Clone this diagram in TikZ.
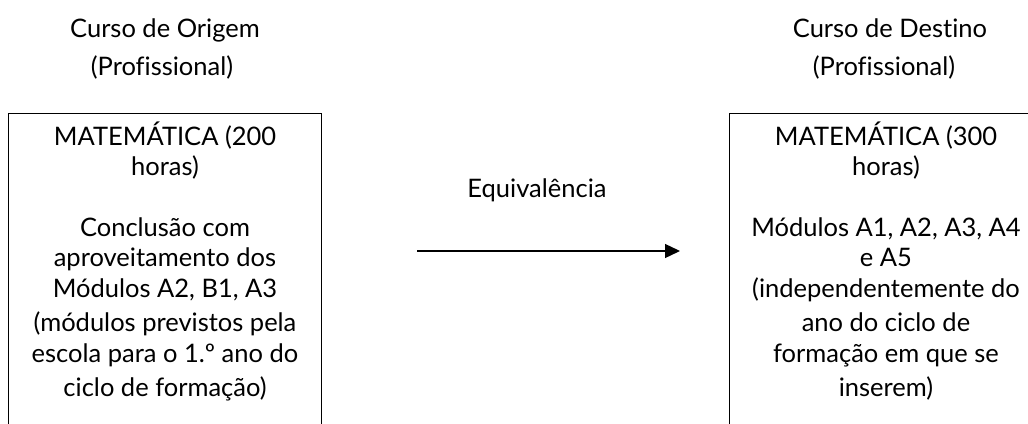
\documentclass[tikz,border=0pt]{standalone}
\usepackage{fontspec}
\setmainfont{Lato}[Ligatures={NoCommon}]
\usetikzlibrary{arrows.meta}
\tikzset{
  txt/.style={font=\fontsize{25.5}{30}\selectfont, inner sep=0pt, anchor=base, text=black},
  boxframe/.style={draw=black, line width=1.3pt, rectangle, anchor=north west, inner sep=0pt},
  equiv/.style={line width=1.3pt, -{Triangle[length=15pt,width=14pt]}}
}
\begin{document}
\begin{tikzpicture}[x=1pt,y=-1pt]
\useasboundingbox (0,0) rectangle (1028,423);
\clip (0,0) rectangle (1028,423);
\fill[white] (0,0) rectangle (1028,423);
% boxes
\node[boxframe, minimum width=313pt, minimum height=340pt] (orig) at (8,113) {};
\node[boxframe, minimum width=314pt, minimum height=340pt] (dest) at (729,113) {};
% titles
\node[txt] (t1) at (165,37) {Curso de Origem};
\node[txt] (t2) at (162,75) {(Profissional)};
\node[txt] (t3) at (890,37) {Curso de Destino};
\node[txt] (t4) at (884,75) {(Profissional)};
% left box text
\node[txt] (l1) at (165,145) {MATEMÁTICA (200};
\node[txt] (l2) at (165,175) {horas)};
\node[txt] (l3) at (165,236) {Conclusão com};
\node[txt] (l4) at (165,266) {aproveitamento dos};
\node[txt] (l5) at (165,297) {Módulos A2, B1, A3};
\node[txt] (l6) at (165,331) {(módulos previstos pela};
\node[txt] (l7) at (165,362) {escola para o 1.º ano do};
\node[txt] (l8) at (165,396) {ciclo de formação)};
% right box text
\node[txt] (r1) at (886,145) {MATEMÁTICA (300};
\node[txt] (r2) at (886,175) {horas)};
\node[txt] (r3) at (886,236) {Módulos A1, A2, A3, A4};
\node[txt] (r4) at (886,266) {e A5};
\node[txt] (r5) at (886,297) {(independentemente do};
\node[txt] (r6) at (886,331) {ano do ciclo de};
\node[txt] (r7) at (886,362) {formação em que se};
\node[txt] (r8) at (886,396) {inserem)};
% arrow
\node[txt] (eq) at (537,197) {Equivalência};
\coordinate (a1) at (417,251);
\coordinate (a2) at (680,251);
\draw[equiv] (a1) -- (a2);
\end{tikzpicture}
\end{document}
